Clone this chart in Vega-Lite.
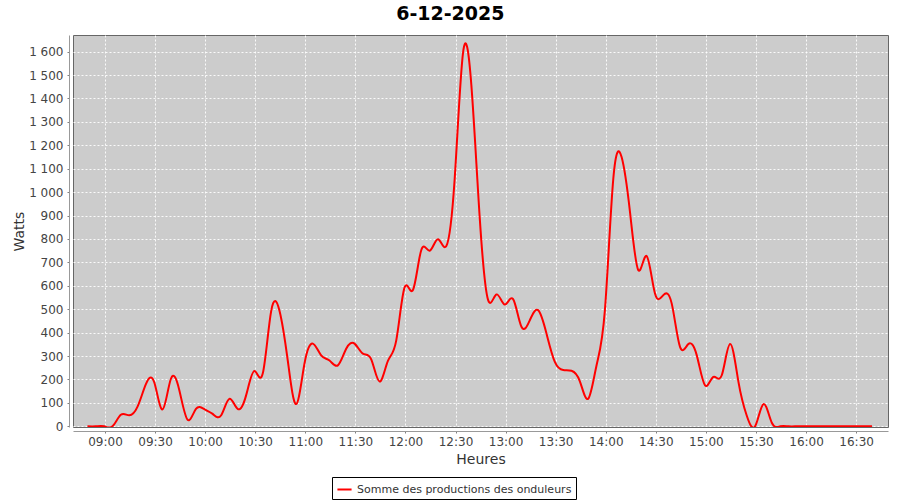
{
  "$schema": "https://vega.github.io/schema/vega-lite/v6.json",
  "width": 815,
  "height": 392,
  "autosize": {"type": "none"},
  "padding": {"left": 73, "top": 35, "right": 12, "bottom": 73},
  "background": "white",
  "title": {"text": "6-12-2025", "font": "DejaVu Sans", "fontSize": 19, "fontWeight": "bold", "color": "#000000", "anchor": "middle", "frame": "bounds", "offset": 11},
  "data": {"values": [
    {"time": "2025-12-06T08:49:30", "watts": 0},
    {"time": "2025-12-06T08:54:30", "watts": 0},
    {"time": "2025-12-06T08:59:30", "watts": 0},
    {"time": "2025-12-06T09:04:30", "watts": 0},
    {"time": "2025-12-06T09:09:30", "watts": 49},
    {"time": "2025-12-06T09:14:30", "watts": 47},
    {"time": "2025-12-06T09:19:30", "watts": 84},
    {"time": "2025-12-06T09:24:30", "watts": 180},
    {"time": "2025-12-06T09:29:30", "watts": 188},
    {"time": "2025-12-06T09:34:30", "watts": 72},
    {"time": "2025-12-06T09:39:30", "watts": 203},
    {"time": "2025-12-06T09:44:30", "watts": 155},
    {"time": "2025-12-06T09:49:30", "watts": 28},
    {"time": "2025-12-06T09:54:30", "watts": 74},
    {"time": "2025-12-06T09:59:30", "watts": 73},
    {"time": "2025-12-06T10:04:30", "watts": 53},
    {"time": "2025-12-06T10:09:30", "watts": 46},
    {"time": "2025-12-06T10:14:30", "watts": 117},
    {"time": "2025-12-06T10:19:30", "watts": 74},
    {"time": "2025-12-06T10:24:30", "watts": 131},
    {"time": "2025-12-06T10:29:30", "watts": 236},
    {"time": "2025-12-06T10:34:30", "watts": 225},
    {"time": "2025-12-06T10:39:30", "watts": 490},
    {"time": "2025-12-06T10:44:30", "watts": 495},
    {"time": "2025-12-06T10:49:30", "watts": 281},
    {"time": "2025-12-06T10:54:30", "watts": 95},
    {"time": "2025-12-06T10:59:30", "watts": 267},
    {"time": "2025-12-06T11:04:30", "watts": 353},
    {"time": "2025-12-06T11:09:30", "watts": 303},
    {"time": "2025-12-06T11:14:30", "watts": 281},
    {"time": "2025-12-06T11:19:30", "watts": 260},
    {"time": "2025-12-06T11:24:30", "watts": 331},
    {"time": "2025-12-06T11:29:30", "watts": 353},
    {"time": "2025-12-06T11:34:30", "watts": 310},
    {"time": "2025-12-06T11:39:30", "watts": 286},
    {"time": "2025-12-06T11:44:30", "watts": 191},
    {"time": "2025-12-06T11:49:30", "watts": 279},
    {"time": "2025-12-06T11:54:30", "watts": 367},
    {"time": "2025-12-06T11:59:30", "watts": 593},
    {"time": "2025-12-06T12:04:30", "watts": 582},
    {"time": "2025-12-06T12:09:30", "watts": 753},
    {"time": "2025-12-06T12:14:30", "watts": 750},
    {"time": "2025-12-06T12:19:30", "watts": 799},
    {"time": "2025-12-06T12:24:30", "watts": 770},
    {"time": "2025-12-06T12:29:30", "watts": 1057},
    {"time": "2025-12-06T12:34:30", "watts": 1595},
    {"time": "2025-12-06T12:39:30", "watts": 1456},
    {"time": "2025-12-06T12:44:30", "watts": 891},
    {"time": "2025-12-06T12:49:30", "watts": 540},
    {"time": "2025-12-06T12:54:30", "watts": 563},
    {"time": "2025-12-06T12:59:30", "watts": 520},
    {"time": "2025-12-06T13:04:30", "watts": 543},
    {"time": "2025-12-06T13:09:30", "watts": 425},
    {"time": "2025-12-06T13:14:30", "watts": 453},
    {"time": "2025-12-06T13:19:30", "watts": 496},
    {"time": "2025-12-06T13:24:30", "watts": 396},
    {"time": "2025-12-06T13:29:30", "watts": 275},
    {"time": "2025-12-06T13:34:30", "watts": 240},
    {"time": "2025-12-06T13:39:30", "watts": 237},
    {"time": "2025-12-06T13:44:30", "watts": 192},
    {"time": "2025-12-06T13:49:30", "watts": 118},
    {"time": "2025-12-06T13:54:30", "watts": 261},
    {"time": "2025-12-06T13:59:30", "watts": 496},
    {"time": "2025-12-06T14:04:30", "watts": 1055},
    {"time": "2025-12-06T14:09:30", "watts": 1150},
    {"time": "2025-12-06T14:14:30", "watts": 917},
    {"time": "2025-12-06T14:19:30", "watts": 667},
    {"time": "2025-12-06T14:24:30", "watts": 727},
    {"time": "2025-12-06T14:29:30", "watts": 567},
    {"time": "2025-12-06T14:34:30", "watts": 560},
    {"time": "2025-12-06T14:39:30", "watts": 525},
    {"time": "2025-12-06T14:44:30", "watts": 339},
    {"time": "2025-12-06T14:49:30", "watts": 351},
    {"time": "2025-12-06T14:54:30", "watts": 304},
    {"time": "2025-12-06T14:59:30", "watts": 175},
    {"time": "2025-12-06T15:04:30", "watts": 211},
    {"time": "2025-12-06T15:09:30", "watts": 218},
    {"time": "2025-12-06T15:14:30", "watts": 351},
    {"time": "2025-12-06T15:19:30", "watts": 190},
    {"time": "2025-12-06T15:24:30", "watts": 45},
    {"time": "2025-12-06T15:29:30", "watts": 0},
    {"time": "2025-12-06T15:34:30", "watts": 95},
    {"time": "2025-12-06T15:39:30", "watts": 15},
    {"time": "2025-12-06T15:44:30", "watts": 0},
    {"time": "2025-12-06T15:49:30", "watts": 0},
    {"time": "2025-12-06T15:54:30", "watts": 0},
    {"time": "2025-12-06T15:59:30", "watts": 0},
    {"time": "2025-12-06T16:04:30", "watts": 0},
    {"time": "2025-12-06T16:09:30", "watts": 0},
    {"time": "2025-12-06T16:14:30", "watts": 0},
    {"time": "2025-12-06T16:19:30", "watts": 0},
    {"time": "2025-12-06T16:24:30", "watts": 0},
    {"time": "2025-12-06T16:29:30", "watts": 0},
    {"time": "2025-12-06T16:34:30", "watts": 0},
    {"time": "2025-12-06T16:39:30", "watts": 0}
  ]},
  "mark": {"type": "line", "interpolate": "natural", "clip": true, "strokeWidth": 2},
  "encoding": {
    "x": {
      "field": "time", "type": "temporal",
      "scale": {"domain": [
        {"year": 2025, "month": 12, "date": 6, "hours": 8, "minutes": 40, "seconds": 50},
        {"year": 2025, "month": 12, "date": 6, "hours": 16, "minutes": 49, "seconds": 6}
      ]},
      "axis": {
        "title": "Heures",
        "format": "%H:%M",
        "values": [
          {"year": 2025, "month": 12, "date": 6, "hours": 9, "minutes": 0},
          {"year": 2025, "month": 12, "date": 6, "hours": 9, "minutes": 30},
          {"year": 2025, "month": 12, "date": 6, "hours": 10, "minutes": 0},
          {"year": 2025, "month": 12, "date": 6, "hours": 10, "minutes": 30},
          {"year": 2025, "month": 12, "date": 6, "hours": 11, "minutes": 0},
          {"year": 2025, "month": 12, "date": 6, "hours": 11, "minutes": 30},
          {"year": 2025, "month": 12, "date": 6, "hours": 12, "minutes": 0},
          {"year": 2025, "month": 12, "date": 6, "hours": 12, "minutes": 30},
          {"year": 2025, "month": 12, "date": 6, "hours": 13, "minutes": 0},
          {"year": 2025, "month": 12, "date": 6, "hours": 13, "minutes": 30},
          {"year": 2025, "month": 12, "date": 6, "hours": 14, "minutes": 0},
          {"year": 2025, "month": 12, "date": 6, "hours": 14, "minutes": 30},
          {"year": 2025, "month": 12, "date": 6, "hours": 15, "minutes": 0},
          {"year": 2025, "month": 12, "date": 6, "hours": 15, "minutes": 30},
          {"year": 2025, "month": 12, "date": 6, "hours": 16, "minutes": 0},
          {"year": 2025, "month": 12, "date": 6, "hours": 16, "minutes": 30}
        ],
        "offset": 4,
        "labelFont": "DejaVu Sans", "labelFontSize": 12, "labelColor": "#444444",
        "labelPadding": 3, "tickSize": 2, "tickColor": "#808080",
        "domainColor": "#999999",
        "titleFont": "DejaVu Sans", "titleFontSize": 14, "titleFontWeight": "normal", "titleColor": "#333333",
        "titlePadding": 5,
        "grid": true, "gridColor": "#FFFFFF", "gridDash": [2, 2], "gridOpacity": 0.9
      }
    },
    "y": {
      "field": "watts", "type": "quantitative",
      "scale": {"domain": [-3, 1671], "nice": false, "zero": false},
      "axis": {
        "title": "Watts",
        "values": [0, 100, 200, 300, 400, 500, 600, 700, 800, 900, 1000, 1100, 1200, 1300, 1400, 1500, 1600],
        "labelExpr": "replace(format(datum.value, ','), ',', ' ')",
        "offset": 4,
        "labelFont": "DejaVu Sans", "labelFontSize": 12, "labelColor": "#444444",
        "labelPadding": 4, "tickSize": 2, "tickColor": "#808080",
        "domainColor": "#999999",
        "titleFont": "DejaVu Sans", "titleFontSize": 14, "titleFontWeight": "normal", "titleColor": "#333333",
        "titlePadding": 2,
        "grid": true, "gridColor": "#FFFFFF", "gridDash": [2, 2], "gridOpacity": 0.9
      }
    },
    "color": {
      "datum": "Somme des productions des onduleurs",
      "type": "nominal",
      "scale": {"range": ["#FF0000"]},
      "legend": {
        "title": null,
        "orient": "none",
        "legendX": 259,
        "legendY": 442,
        "symbolType": "stroke",
        "symbolStrokeWidth": 2,
        "symbolSize": 200,
        "labelFont": "DejaVu Sans", "labelFontSize": 11, "labelColor": "#333333",
        "labelLimit": 500,
        "strokeColor": "#000000",
        "padding": 4,
        "fillColor": "#FFFFFF"
      }
    }
  },
  "config": {
    "view": {"fill": "#CCCCCC", "stroke": "#666666", "strokeWidth": 1},
    "font": "DejaVu Sans"
  }
}
